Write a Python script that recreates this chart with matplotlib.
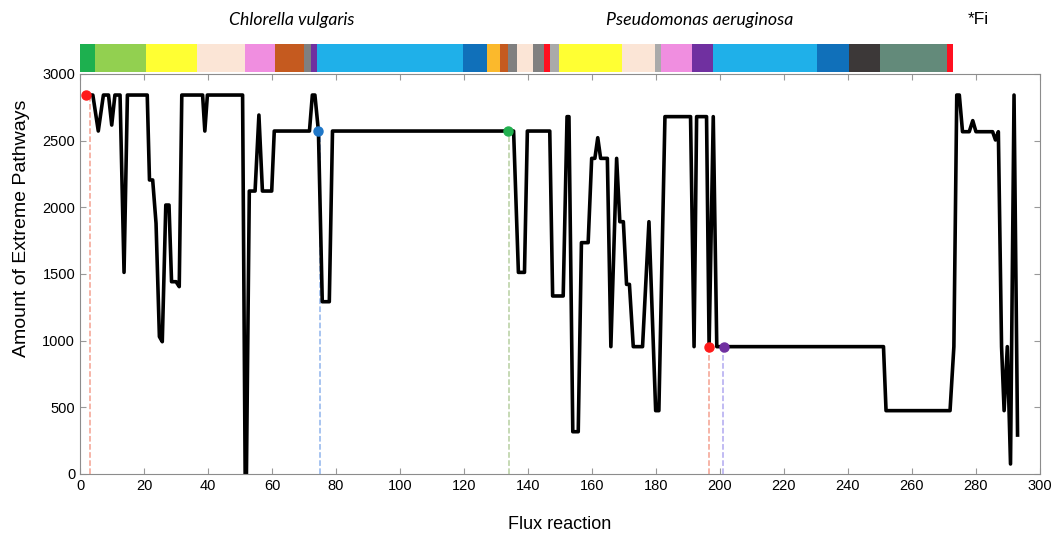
import numpy as np
import matplotlib
matplotlib.use("Agg")
from matplotlib import pyplot as plt

plt.rcParams['font.family'] = ['Liberation Sans', 'DejaVu Sans']

# line trace (flux reaction index, amount of extreme pathways)
flux = [2, 4, 5.7, 7.3, 8.9, 9.9, 10.9, 12.5, 13.75, 14.8, 21, 21.7, 22.7, 23.75, 24.8, 25.7,
        26.8, 27.8, 28.6, 30, 31, 31.8, 38.3, 39, 39.8, 50.8, 51.6, 52, 52.9, 54.7, 55.9,
        57, 59.9, 60.7, 71.7, 72.6, 73.4, 74.5, 75.7, 77.9, 78.9, 133.9, 135.5, 137, 138.9,
        139.8, 146.8, 147.7, 151, 152.2, 152.8, 154, 155.7, 156.7, 158.8, 159.9, 160.9,
        161.8, 162.7, 164.8, 165.9, 167.7, 168.7, 169.8, 170.8, 171.7, 172.9, 175.8, 177.8,
        179.9, 180.9, 182.8, 190.8, 191.9, 192.7, 195.8, 196.6, 197.9, 199, 201.2, 251.1,
        251.9, 271.9, 273.1, 274, 274.8, 275.8, 277.9, 279, 280, 285.2, 286.1, 287, 288,
        288.8, 289.8, 290.8, 291.9, 293]
pathways = [2842, 2842, 2572, 2842, 2842, 2617, 2842, 2842, 1512, 2842, 2842, 2205, 2205, 1880,
            1030, 992, 2017, 2017, 1442, 1442, 1405, 2842, 2842, 2572, 2842, 2842, 0, 0, 2122,
            2122, 2692, 2122, 2122, 2572, 2572, 2842, 2842, 2572, 1292, 1292, 2572, 2572, 2572,
            1512, 1512, 2572, 2572, 1335, 1335, 2680, 2680, 317, 317, 1735, 1735, 2367, 2367,
            2522, 2367, 2367, 955, 2367, 1892, 1892, 1422, 1422, 955, 955, 1892, 475, 475, 2680,
            2680, 955, 2680, 2680, 955, 2680, 955, 955, 955, 475, 475, 955, 2842, 2842, 2567,
            2567, 2650, 2567, 2567, 2505, 2567, 955, 475, 955, 75, 2842, 292]

# highlighted points
mark_x = [2, 74.5, 133.9, 196.5, 201.2]
mark_line_x = [3, 75, 134, 196.5, 200.8]
mark_y = [2842, 2572, 2572, 955, 955]
mark_colors = ["#ff1a1a", "#1f77c8", "#22b04f", "#ff1a1a", "#7030a0"]
line_colors = ["#f4a090", "#8fb4ec", "#b6cfa0", "#f4a090", "#b0a8f0"]

# top color strip segments (start, end, color)
seg_start = [0, 4.7, 20.6, 36.7, 51.6, 60.9, 70.1, 72.1, 74.2, 119.6, 127.1, 131.25, 133.9,
             136.5, 141.5, 145, 147, 149.8, 169.3, 179.7, 181.6, 191.1, 197.9, 230.4, 240.4,
             250, 271]
seg_end = seg_start[1:] + [272.7]
seg_colors = ["#1db04f", "#92d050", "#ffff33", "#fbe5d6", "#f08ee0", "#c55a1f", "#808080",
              "#7030a0", "#1fb0e9", "#1070ba", "#fbb92c", "#c55a1f", "#808080", "#fbe5d6",
              "#808080", "#ff1020", "#aaaaaa", "#ffff33", "#fbe5d6", "#aaaaaa", "#f08ee0",
              "#7030a0", "#1fb0e9", "#1070ba", "#3c3838", "#638a7a", "#ff1020"]

fig = plt.figure(figsize=(10.56, 5.36), dpi=100)
ax = fig.add_axes([0.0758, 0.1157, 0.909, 0.7463])

for lx, my, lc in zip(mark_line_x, mark_y, line_colors):
    ax.plot([lx, lx], [0, my], "--", color=lc, lw=1.1, zorder=1)
ax.plot(flux, pathways, "k-", lw=2.6, zorder=2)
for mx, my, mc in zip(mark_x, mark_y, mark_colors):
    ax.plot(mx, my, "o", color=mc, ms=6.5, zorder=3)

ax.set_xlim(0, 300)
ax.set_ylim(0, 3000)
ax.set_xticks(range(0, 301, 20))
ax.set_yticks(range(0, 3001, 500))
ax.tick_params(direction="in", top=True, right=True, length=4, color="#999999", labelsize=10.5)
for s in ax.spines.values():
    s.set_color("#8c8c8c")
ax.set_xlabel("Flux reaction", fontsize=13)
ax.xaxis.set_label_coords(0.5, -0.105)
ax.set_ylabel("Amount of Extreme Pathways", fontsize=14)
ax.yaxis.set_label_coords(-0.052, 0.615)

bar = fig.add_axes([0.0758, 0.8657, 0.909, 0.0522])
bar.barh(0, np.array(seg_end) - np.array(seg_start), left=seg_start, color=seg_colors, height=1)
bar.set_xlim(0, 300)
bar.set_ylim(-0.5, 0.5)
bar.axis("off")

fig.text(0.2765, 0.963, "Chlorella vulgaris", family="Lato", style="italic", fontsize=12.7,
         ha="center", va="center")
fig.text(0.6624, 0.963, "Pseudomonas aeruginosa", family="Lato", style="italic", fontsize=12.8,
         ha="center", va="center")
fig.text(0.916, 0.963, "*Fi", fontsize=12.5, ha="left", va="center")

fig.savefig("out.png", dpi=100)
